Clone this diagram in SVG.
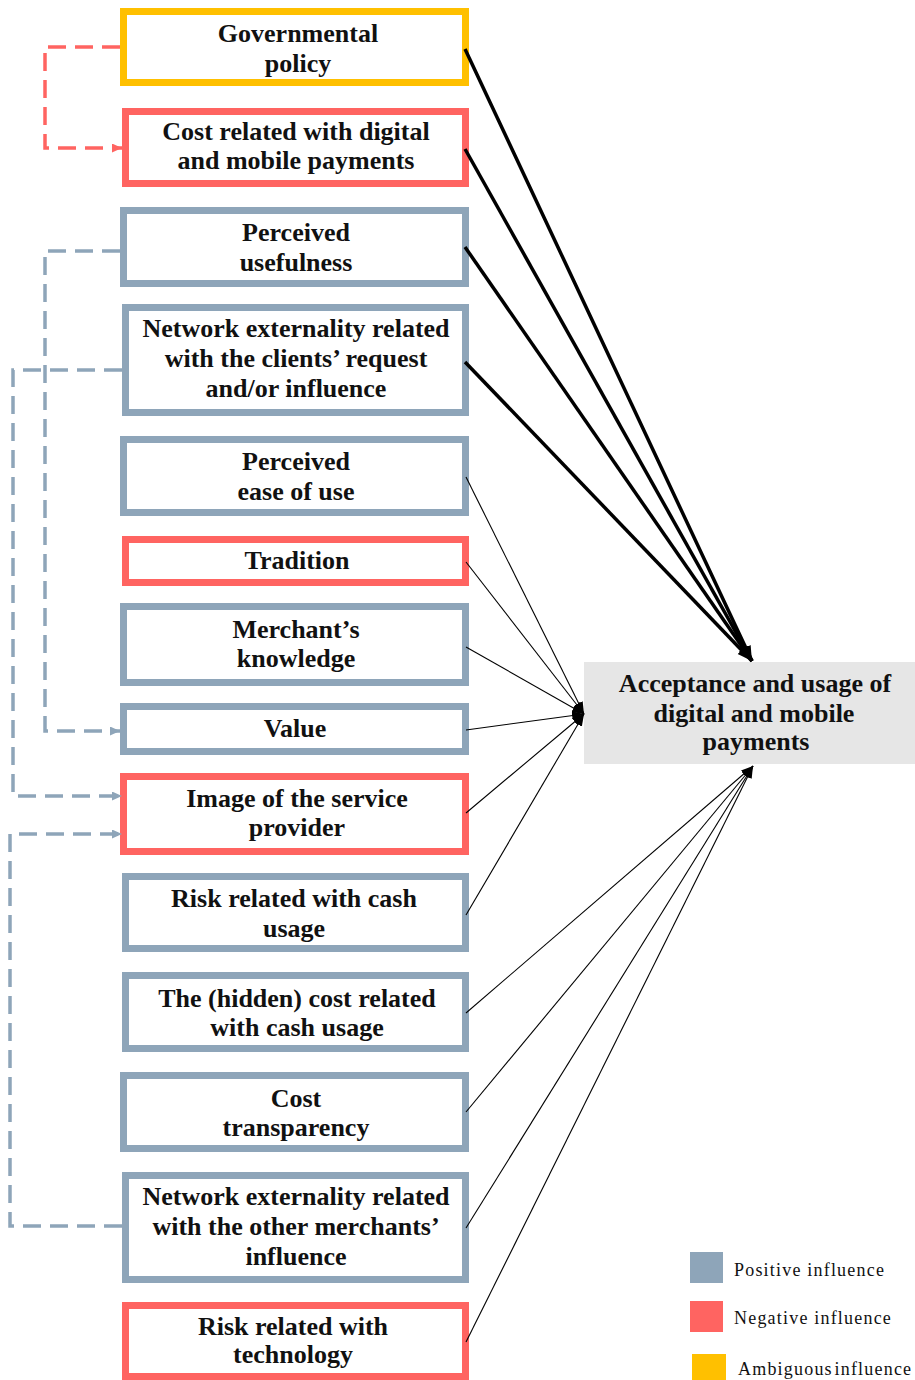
<svg xmlns="http://www.w3.org/2000/svg" width="915" height="1380" viewBox="0 0 915 1380">
<style>
.box{fill:#fff;stroke-width:7}
.pos{stroke:#8EA5B9}
.neg{stroke:#FF6461}
.amb{stroke:#FFC000}
.t{font-family:"Liberation Serif","Times New Roman",serif;font-weight:bold;font-size:26px;text-anchor:middle;fill:#111}
.lg{font-family:"Liberation Serif","Times New Roman",serif;font-size:18px;letter-spacing:1.2px;fill:#111}
.thick{stroke:#000;stroke-width:3.5;fill:none}
.thin{stroke:#000;stroke-width:1.1;fill:none}
.dr{stroke:#FF6461;stroke-width:3.5;fill:none;stroke-dasharray:18 9}
.db{stroke:#8EA5B9;stroke-width:3.5;fill:none;stroke-dasharray:18 9}
</style>
<defs>
<marker id="ak" markerUnits="userSpaceOnUse" markerWidth="16" markerHeight="12" refX="15" refY="5.5" orient="auto"><path d="M0,0 L15,5.5 L0,11 z" fill="#000"/></marker>
<marker id="at" markerUnits="userSpaceOnUse" markerWidth="13" markerHeight="10" refX="12" refY="4.5" orient="auto"><path d="M0,0 L12,4.5 L0,9 z" fill="#000"/></marker>
<marker id="ar" markerUnits="userSpaceOnUse" markerWidth="11" markerHeight="10" refX="10" refY="4.5" orient="auto"><path d="M0,0 L10,4.5 L0,9 z" fill="#FF6461"/></marker>
<marker id="ab" markerUnits="userSpaceOnUse" markerWidth="11" markerHeight="10" refX="10" refY="4.5" orient="auto"><path d="M0,0 L10,4.5 L0,9 z" fill="#8EA5B9"/></marker>
</defs>

<g id="n-gov"><rect class="box amb" x="123.5" y="11.5" width="342" height="71"/>
<text class="t" x="298" y="42">Governmental</text><text class="t" x="298" y="72">policy</text></g>
<g id="n-cost"><rect class="box neg" x="125.5" y="111.5" width="340" height="72"/>
<text class="t" x="296" y="140">Cost related with digital</text><text class="t" x="296" y="169">and mobile payments</text></g>
<g id="n-useful"><rect class="box pos" x="123.5" y="210.5" width="342" height="73"/>
<text class="t" x="296" y="241">Perceived</text><text class="t" x="296" y="271">usefulness</text></g>
<g id="n-netc"><rect class="box pos" x="125.5" y="307.5" width="340" height="105"/>
<text class="t" x="296" y="337">Network externality related</text><text class="t" x="296" y="367">with the clients’ request</text><text class="t" x="296" y="397">and/or influence</text></g>
<g id="n-ease"><rect class="box pos" x="123.5" y="439.5" width="342" height="73"/>
<text class="t" x="296" y="470">Perceived</text><text class="t" x="296" y="500">ease of use</text></g>
<g id="n-trad"><rect class="box neg" x="125.5" y="539.5" width="340" height="43"/>
<text class="t" x="297" y="569">Tradition</text></g>
<g id="n-merch"><rect class="box pos" x="123.5" y="606.5" width="342" height="76"/>
<text class="t" x="296" y="638">Merchant’s</text><text class="t" x="296" y="667">knowledge</text></g>
<g id="n-value"><rect class="box pos" x="123.5" y="706.5" width="342" height="45"/>
<text class="t" x="295" y="737">Value</text></g>
<g id="n-image"><rect class="box neg" x="123.5" y="776.5" width="342" height="75"/>
<text class="t" x="297" y="807">Image of the service</text><text class="t" x="297" y="836">provider</text></g>
<g id="n-riskc"><rect class="box pos" x="125.5" y="876.5" width="340" height="72"/>
<text class="t" x="294" y="907">Risk related with cash</text><text class="t" x="294" y="937">usage</text></g>
<g id="n-hidden"><rect class="box pos" x="125.5" y="975.5" width="340" height="73"/>
<text class="t" x="297" y="1007">The (hidden) cost related</text><text class="t" x="297" y="1036">with cash usage</text></g>
<g id="n-costt"><rect class="box pos" x="123.5" y="1075.5" width="342" height="73"/>
<text class="t" x="296" y="1107">Cost</text><text class="t" x="296" y="1136">transparency</text></g>
<g id="n-neto"><rect class="box pos" x="125.5" y="1175.5" width="340" height="104"/>
<text class="t" x="296" y="1205">Network externality related</text><text class="t" x="296" y="1235">with the other merchants’</text><text class="t" x="296" y="1265">influence</text></g>
<g id="n-riskt"><rect class="box neg" x="125.5" y="1305.5" width="340" height="71"/>
<text class="t" x="293" y="1335">Risk related with</text><text class="t" x="293" y="1363">technology</text></g>

<g id="n-accept"><rect x="584" y="662" width="331" height="102" fill="#E6E6E6"/>
<text class="t" x="755" y="692">Acceptance and usage of</text><text class="t" x="754" y="722">digital and mobile</text><text class="t" x="756" y="750">payments</text></g>

<g id="connectors">
<path class="thick" d="M465,49 L752,661" marker-end="url(#ak)"/>
<path class="thick" d="M465,149 L752,661" marker-end="url(#ak)"/>
<path class="thick" d="M465,247 L752,661" marker-end="url(#ak)"/>
<path class="thick" d="M465,362 L752,661" marker-end="url(#ak)"/>
<path class="thin" d="M466,477 L584,714" marker-end="url(#at)"/>
<path class="thin" d="M466,562 L584,714" marker-end="url(#at)"/>
<path class="thin" d="M466,647 L584,714" marker-end="url(#at)"/>
<path class="thin" d="M466,730 L584,714" marker-end="url(#at)"/>
<path class="thin" d="M466,813 L584,714" marker-end="url(#at)"/>
<path class="thin" d="M466,915 L584,714" marker-end="url(#at)"/>
<path class="thin" d="M466,1013 L753,766" marker-end="url(#at)"/>
<path class="thin" d="M466,1112 L753,766" marker-end="url(#at)"/>
<path class="thin" d="M466,1228 L753,766" marker-end="url(#at)"/>
<path class="thin" d="M466,1342 L753,766" marker-end="url(#at)"/>
<path class="dr" d="M120,47 H45 V148 H122" marker-end="url(#ar)"/>
<path class="db" d="M120,251 H45 V731 H120" marker-end="url(#ab)"/>
<path class="db" d="M122,370 H13 V796 H122" marker-end="url(#ab)"/>
<path class="db" d="M122,1226 H10 V834 H122" marker-end="url(#ab)"/>
</g>

<g id="legend">
<rect x="690" y="1252" width="33" height="31" fill="#8EA5B9"/>
<text class="lg" x="734" y="1276">Positive influence</text>
<rect x="690" y="1301" width="33" height="31" fill="#FF6461"/>
<text class="lg" x="734" y="1324">Negative influence</text>
<rect x="692" y="1354" width="34" height="26" fill="#FFC000"/>
<text class="lg" x="738" y="1375" word-spacing="-4">Ambiguous influence</text>
</g>
</svg>
